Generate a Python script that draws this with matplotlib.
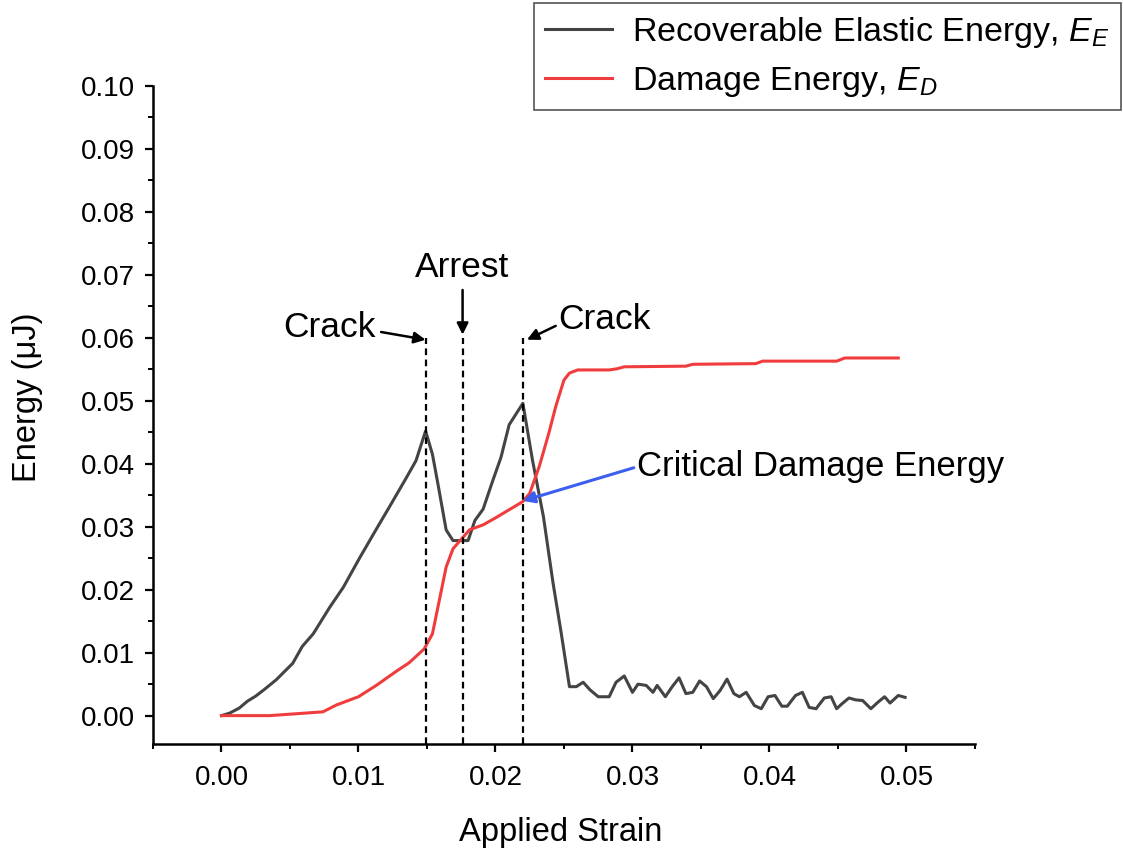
import matplotlib
matplotlib.use("Agg")
import matplotlib.pyplot as plt
from matplotlib.ticker import MultipleLocator, FormatStrFormatter

plt.rcParams['font.family'] = ['Liberation Sans', 'DejaVu Sans']
plt.rcParams['mathtext.fontset'] = 'custom'
plt.rcParams['mathtext.rm'] = 'Liberation Sans'
plt.rcParams['mathtext.it'] = 'Liberation Sans:italic'

# Recoverable elastic energy E_E
strain_e = [0.0000, 0.0006, 0.0013, 0.0019, 0.0025, 0.0031, 0.0040, 0.0052, 0.0059, 0.0067,
            0.0079, 0.0089, 0.0101, 0.0113, 0.0123, 0.0135, 0.0142, 0.0149, 0.0154, 0.0158,
            0.0164, 0.0169, 0.0180, 0.0185, 0.0191, 0.0198, 0.0204, 0.0210, 0.0220, 0.0227,
            0.0235, 0.0242, 0.0248, 0.0254, 0.0259, 0.0264, 0.0269, 0.0275, 0.0283, 0.0288,
            0.0294, 0.0300, 0.0304, 0.0310, 0.0315, 0.0318, 0.0324, 0.0329, 0.0334, 0.0339,
            0.0344, 0.0349, 0.0354, 0.0359, 0.0364, 0.0369, 0.0374, 0.0378, 0.0383, 0.0389,
            0.0394, 0.0399, 0.0404, 0.0409, 0.0413, 0.0419, 0.0424, 0.0429, 0.0434, 0.0440,
            0.0445, 0.0449, 0.0453, 0.0458, 0.0463, 0.0468, 0.0474, 0.0479, 0.0484, 0.0488,
            0.0494, 0.0499]
energy_e = [0.0000, 0.0004, 0.0012, 0.0023, 0.0031, 0.0041, 0.0057, 0.0083, 0.0110, 0.0130,
            0.0172, 0.0204, 0.0251, 0.0296, 0.0333, 0.0378, 0.0405, 0.0452, 0.0415, 0.0368,
            0.0295, 0.0278, 0.0278, 0.0310, 0.0328, 0.0373, 0.0410, 0.0462, 0.0496, 0.0406,
            0.0316, 0.0211, 0.0131, 0.0046, 0.0046, 0.0053, 0.0041, 0.0030, 0.0030, 0.0053,
            0.0063, 0.0037, 0.0050, 0.0048, 0.0037, 0.0048, 0.0030, 0.0046, 0.0060, 0.0035,
            0.0037, 0.0055, 0.0046, 0.0027, 0.0040, 0.0058, 0.0035, 0.0030, 0.0037, 0.0016,
            0.0011, 0.0030, 0.0032, 0.0015, 0.0015, 0.0032, 0.0037, 0.0013, 0.0011, 0.0028,
            0.0030, 0.0011, 0.0019, 0.0028, 0.0025, 0.0024, 0.0011, 0.0021, 0.0030, 0.0020,
            0.0032, 0.0029]

# Damage energy E_D
strain_d = [0.0000, 0.0035, 0.0074, 0.0084, 0.0100, 0.0113, 0.0128, 0.0137, 0.0148, 0.0154,
            0.0159, 0.0164, 0.0169, 0.0175, 0.0181, 0.0191, 0.0200, 0.0210, 0.0220, 0.0225,
            0.0232, 0.0239, 0.0244, 0.0250, 0.0254, 0.0260, 0.0283, 0.0289, 0.0294, 0.0339,
            0.0344, 0.0390, 0.0395, 0.0449, 0.0455, 0.0494]
energy_d = [0.0000, 0.0000, 0.0006, 0.0017, 0.0030, 0.0048, 0.0071, 0.0084, 0.0106, 0.0130,
            0.0183, 0.0236, 0.0265, 0.0280, 0.0295, 0.0303, 0.0314, 0.0327, 0.0340, 0.0353,
            0.0396, 0.0449, 0.0491, 0.0533, 0.0544, 0.0549, 0.0549, 0.0551, 0.0554, 0.0555,
            0.0558, 0.0559, 0.0563, 0.0563, 0.0568, 0.0568]

event_strains = [0.0149, 0.0176, 0.0220]
x_ticks = [0.00, 0.01, 0.02, 0.03, 0.04, 0.05]
y_ticks = [0.00, 0.01, 0.02, 0.03, 0.04, 0.05, 0.06, 0.07, 0.08, 0.09, 0.10]

fig = plt.figure(figsize=(11.23, 8.52), dpi=100)
ax = fig.add_axes([0.1362, 0.1268, 0.7320, 0.7723])

l1, = ax.plot(strain_e, energy_e, color='#444444', lw=2.2,
              label='Recoverable Elastic Energy, $E_E$')
l2, = ax.plot(strain_d, energy_d, color='#f03c3c', lw=2.2,
              label='Damage Energy, $E_D$')

for s in event_strains:
    ax.plot([s, s], [-0.0045, 0.060], color='black', lw=1.6, ls=(0, (3, 2)))

ax.set_xlim(-0.005, 0.055)
ax.set_ylim(-0.0045, 0.10)
ax.set_xticks(x_ticks)
ax.set_yticks(y_ticks)
ax.xaxis.set_minor_locator(MultipleLocator(0.005))
ax.yaxis.set_minor_locator(MultipleLocator(0.005))
ax.xaxis.set_major_formatter(FormatStrFormatter('%.2f'))
ax.yaxis.set_major_formatter(FormatStrFormatter('%.2f'))
ax.spines['top'].set_visible(False)
ax.spines['right'].set_visible(False)
ax.spines['left'].set_linewidth(1.8)
ax.spines['bottom'].set_linewidth(1.8)
ax.tick_params(axis='both', which='major', direction='out', length=6, width=1.6,
               labelsize=20)
ax.tick_params(axis='both', which='minor', direction='out', length=3.5, width=1.4)
ax.tick_params(axis='y', pad=7)
ax.tick_params(axis='x', pad=9)

ax.set_xlabel('Applied Strain', fontsize=23.5, va='center')
ax.set_ylabel('Energy (μJ)', fontsize=23.5, va='center')
ax.xaxis.set_label_coords(0.496, -0.134)
ax.yaxis.set_label_coords(-0.153, 0.5266)

arrow_kw = dict(arrowstyle='-|>', color='black', lw=1.8, mutation_scale=17)
ax.annotate('Crack', xy=(0.0149, 0.0597), xytext=(0.0045, 0.0616),
            fontsize=25.5, va='center', ha='left',
            arrowprops=dict(arrow_kw, shrinkA=2, shrinkB=0, relpos=(1.0, 0.4)))
ax.annotate('Arrest', xy=(0.0176, 0.0605), xytext=(0.0176, 0.0711),
            fontsize=25.5, va='center', ha='center',
            arrowprops=dict(arrow_kw, shrinkA=2, shrinkB=0, relpos=(0.5, 0.0)))
ax.annotate('Crack', xy=(0.0223, 0.0597), xytext=(0.0246, 0.0629),
            fontsize=25.5, va='center', ha='left',
            arrowprops=dict(arrow_kw, shrinkA=0, shrinkB=0, relpos=(0.0, 0.35)))
ax.annotate('Critical Damage Energy', xy=(0.0220, 0.0341), xytext=(0.0303, 0.0395),
            fontsize=25, va='center', ha='left',
            arrowprops=dict(arrowstyle='-|>', color='#3c5ff0', lw=2.2, mutation_scale=17,
                            shrinkA=0, shrinkB=0, relpos=(0.0, 0.5)))

leg = fig.legend(handles=[l1, l2], loc='upper right', bbox_to_anchor=(0.998, 0.996),
                 fontsize=24.5, frameon=True, fancybox=False, framealpha=1,
                 edgecolor='#555555', handlelength=1.95, handletextpad=0.6,
                 borderpad=0.33, labelspacing=0.45, borderaxespad=0)
leg.get_frame().set_linewidth(1.2)

fig.savefig('out.png', dpi=100)
